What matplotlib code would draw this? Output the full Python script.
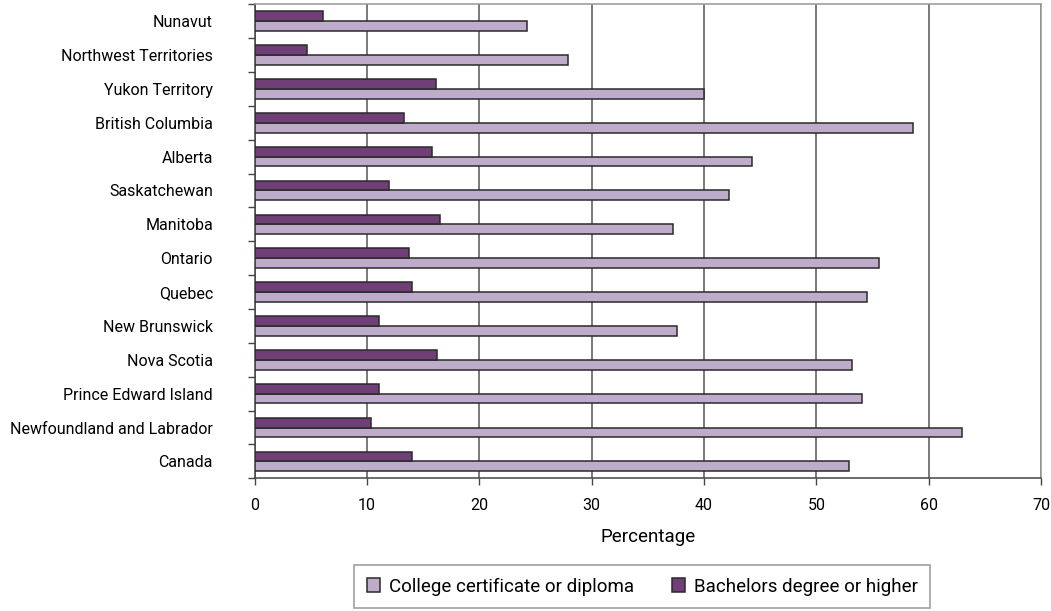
import matplotlib
matplotlib.use("Agg")
import matplotlib.pyplot as plt
from matplotlib import font_manager
import numpy as np

# Provinces and territories, bottom to top
regions = ["Canada", "Newfoundland and Labrador", "Prince Edward Island",
           "Nova Scotia", "New Brunswick", "Quebec", "Ontario", "Manitoba",
           "Saskatchewan", "Alberta", "British Columbia", "Yukon Territory",
           "Northwest Territories", "Nunavut"]
college = [52.9, 63.0, 54.1, 53.2, 37.6, 54.5, 55.6, 37.2, 42.2, 44.3,
           58.6, 40.0, 27.9, 24.2]
bachelors = [14.0, 10.4, 11.1, 16.2, 11.1, 14.0, 13.7, 16.5, 12.0, 15.8,
             13.3, 16.1, 4.7, 6.1]
xticks = [0, 10, 20, 30, 40, 50, 60, 70]

names = {f.name for f in font_manager.fontManager.ttflist}
family = [f for f in ["Roboto", "Liberation Sans"] if f in names] + ["DejaVu Sans"]
plt.rcParams["font.family"] = family

light = "#BFACCB"
dark = "#703F78"
edge = "#2a2a2a"

fig = plt.figure(figsize=(10.51, 6.11), dpi=100)
ax = fig.add_axes([0.2423, 0.2172, 0.9905 - 0.2423, 0.993 - 0.2172])

y = np.arange(len(regions))
h = 0.29
ax.barh(y - 0.145, college, height=h, color=light, edgecolor=edge,
        linewidth=1.1, label="College certificate or diploma", zorder=3)
ax.barh(y + 0.145, bachelors, height=h, color=dark, edgecolor=edge,
        linewidth=1.1, label="Bachelors degree or higher", zorder=3)

ax.set_xlim(0, 70)
ax.set_ylim(-0.5, len(regions) - 0.5)
ax.set_xticks(xticks)
ax.set_xticklabels([str(t) for t in xticks], fontsize=11.5)
ax.tick_params(axis="x", length=5, width=1, color="#444", pad=9)

ax.set_yticks(y)
ax.set_yticklabels(regions, fontsize=11.5)
ax.tick_params(axis="y", which="major", length=0, pad=30)
ax.set_yticks(np.arange(-0.5, len(regions), 1.0), minor=True)
ax.tick_params(axis="y", which="minor", length=5, width=1, color="#444")

ax.grid(axis="x", color="#555555", linewidth=1.1, zorder=0)
for side in ["left", "bottom"]:
    ax.spines[side].set_color("#444")
    ax.spines[side].set_linewidth(1.1)
for side in ["top", "right"]:
    ax.spines[side].set_color("#999999")
    ax.spines[side].set_linewidth(1.1)

ax.set_xlabel("Percentage", fontsize=13.5, labelpad=11)

handles, labels = ax.get_legend_handles_labels()
leg = fig.legend(handles, labels, loc="center", ncol=2,
                 bbox_to_anchor=(0.6113, 0.040), fontsize=13.5,
                 frameon=True, fancybox=False, edgecolor="#888888",
                 handlelength=0.7, handleheight=0.7, handletextpad=0.5,
                 columnspacing=2.0, borderpad=0.65)
leg.get_frame().set_linewidth(1.2)

fig.savefig("out.png", dpi=100)
